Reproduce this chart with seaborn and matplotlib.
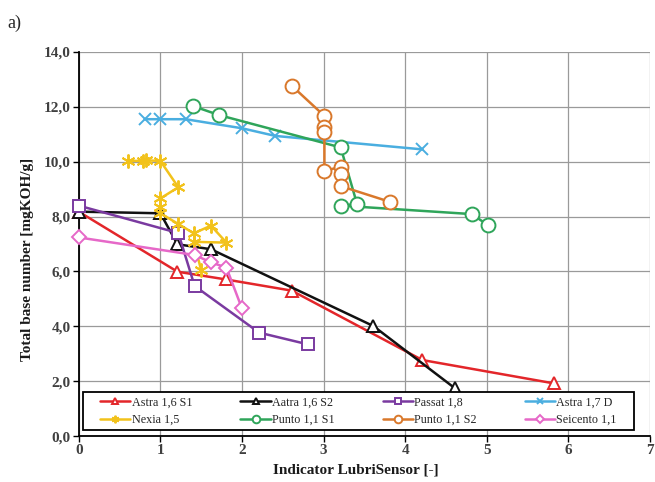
import matplotlib
matplotlib.use("Agg")
import matplotlib.pyplot as plt
import matplotlib.ticker as mticker
from matplotlib.patches import Rectangle
import seaborn as sns
import pandas as pd

series_names = ["Astra 1,6 S1", "Aatra 1,6 S2", "Passat 1,8", "Astra 1,7 D",
                "Nexia 1,5", "Punto 1,1 S1", "Punto 1,1 S2", "Seicento 1,1"]

astra16s1_x = [0.0, 1.21, 1.80, 2.61, 4.21, 5.82]
astra16s1_y = [8.18, 5.99, 5.71, 5.30, 2.77, 1.92]

aatra16s2_x = [0.0, 1.0, 1.21, 1.62, 3.61, 4.61]
aatra16s2_y = [8.18, 8.12, 6.99, 6.81, 4.01, 1.74]

passat_x = [0.0, 1.22, 1.42, 2.21, 2.81]
passat_y = [8.40, 7.40, 5.47, 3.77, 3.34]

astra17d_x = [0.81, 1.0, 1.31, 2.0, 2.41, 4.21]
astra17d_y = [11.55, 11.55, 11.55, 11.22, 10.94, 10.45]

nexia_x = [0.60, 0.79, 0.82, 1.0, 1.22, 1.0, 1.0, 1.0, 1.22, 1.41, 1.62, 1.81, 1.41, 1.50]
nexia_y = [10.03, 10.03, 10.05, 10.03, 9.07, 8.66, 8.36, 8.12, 7.73, 7.39, 7.67, 7.05, 7.08, 6.05]

punto_s1_x = [1.40, 1.72, 3.21, 3.41, 3.21, 4.82, 5.01]
punto_s1_y = [12.03, 11.70, 10.52, 8.46, 8.40, 8.09, 7.69]

punto_s2_x = [2.61, 3.01, 3.01, 3.01, 3.01, 3.21, 3.21, 3.21, 3.81]
punto_s2_y = [12.77, 11.67, 11.28, 11.09, 9.66, 9.82, 9.54, 9.11, 8.54]

seicento_x = [0.0, 1.42, 1.62, 1.81, 2.0]
seicento_y = [7.24, 6.60, 6.33, 6.14, 4.65]

xs = [astra16s1_x, aatra16s2_x, passat_x, astra17d_x, nexia_x, punto_s1_x, punto_s2_x, seicento_x]
ys = [astra16s1_y, aatra16s2_y, passat_y, astra17d_y, nexia_y, punto_s1_y, punto_s2_y, seicento_y]

colors = ["#e3262a", "#111111", "#7a3aa0", "#4aaee0", "#f2c21b", "#2fa55a", "#d9782b", "#e668c8"]
markers = ["^", "^", "s", "x", (6, 2, 0), "o", "o", "D"]
msizes = [8, 9, 9, 9, 10, 10, 10, 7]

sns.set_theme(style="white")
plt.rcParams["font.family"] = ["Liberation Serif", "DejaVu Serif"]

fig = plt.figure(figsize=(6.55, 4.82), dpi=100)
ax = fig.add_axes([0.1202, 0.0954, 0.8722, 0.7967])

for name, x, y, c, m, ms in zip(series_names, xs, ys, colors, markers, msizes):
    df = pd.DataFrame({"x": x, "y": y})
    sns.lineplot(data=df, x="x", y="y", sort=False, ax=ax, color=c, linewidth=1.8,
                 marker=m, markersize=ms,
                 markerfacecolor="white" if m not in ["x", (6, 2, 0)] else c,
                 markeredgecolor=c, markeredgewidth=1.4, label=name, estimator=None,
                 clip_on=False, zorder=3)

ax.set_xlim(0, 7)
ax.set_ylim(0, 14)
ax.xaxis.set_major_locator(mticker.MultipleLocator(1))
ax.yaxis.set_major_locator(mticker.MultipleLocator(2))
ax.yaxis.set_major_formatter(mticker.FuncFormatter(lambda v, p: f"{v:.1f}".replace(".", ",")))
ax.grid(True, color="#9a9a9a", linewidth=0.9)
ax.set_axisbelow(True)
for s in ["left", "bottom"]:
    ax.spines[s].set_color("black")
    ax.spines[s].set_linewidth(1.3)
for s in ["top", "right"]:
    ax.spines[s].set_visible(False)
ax.tick_params(axis="both", labelsize=11, labelcolor="#404040", color="black",
               direction="out", length=4, width=1, left=True, bottom=True, pad=2)
for lab in ax.get_xticklabels() + ax.get_yticklabels():
    lab.set_fontweight("bold")
ax.set_xlabel("Indicator LubriSensor [-]", fontsize=11, fontweight="bold", color="#1a1a1a")
ax.set_ylabel("Total base number [mgKOH/g]", fontsize=11, fontweight="bold", color="#1a1a1a")
ax.xaxis.set_label_coords(0.485, -0.071)
ax.yaxis.set_label_coords(-0.079, 0.461)

# legend frame
ax.add_patch(Rectangle((0.0075, 0.0156), 0.9645, 0.099, transform=ax.transAxes,
                       facecolor="white", edgecolor="black", linewidth=1.3, zorder=4))

h, l = ax.get_legend_handles_labels()
order = [0, 4, 1, 5, 2, 6, 3, 7]
leg = ax.legend([h[i] for i in order], [l[i] for i in order], ncol=4, loc="center",
                bbox_to_anchor=(0.4897, 0.0651), fontsize=8.7, frameon=False,
                handlelength=2.5, handletextpad=0.1, columnspacing=4.0,
                borderpad=0.2, labelspacing=0.45, markerscale=0.55)
leg.set_zorder(5)

fig.text(0.011, 0.952, "a)", fontsize=13, ha="left", va="center")

fig.savefig("out.png", dpi=100)
